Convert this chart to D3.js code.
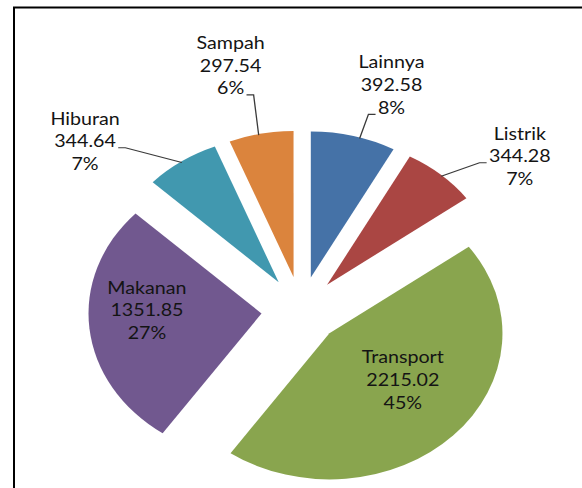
<!DOCTYPE html>
<html>
<head>
<meta charset="utf-8">
<script src="https://cdn.jsdelivr.net/npm/d3@7"></script>
<style>
  body { margin: 0; background: #fff; }
  text { font-family: Lato, "Open Sans", sans-serif; fill: #141414; }
</style>
</head>
<body>
<div id="chart"></div>
<script>
// data
const categories = ["Lainnya", "Listrik", "Transport", "Makanan", "Hiburan", "Sampah"];
const values = [392.58, 344.28, 2215.02, 1351.85, 344.64, 297.54];

// styles
const colors = ["#4572A7", "#AA4643", "#89A54E", "#71588F", "#4198AF", "#DB843D"];

// where the labels sit: polar around the pie centre (deg clockwise from 12 o'clock),
// which text line the leader starts from and where it meets the arc
const labelLayout = [
  { angle: 18.8, radius: 237, line: 2, side: "left", hit: 16.5 },
  { angle: 50.3, radius: 240, line: 1, side: "left", hit: 41.6 },
  { angle: 129.3, radius: 111 },
  { angle: 269.6, radius: 130 },
  { angle: 312.7, radius: 248, line: 1, side: "right", hit: 325.7 },
  { angle: 346.3, radius: 251, line: 2, side: "right", hit: 348.3 }
];

const width = 582, height = 488;
const stretch = 1.185;           // the picture is wider than tall
const radius = 146, explode = 33.5;
const cx = 301 / stretch, cy = 310;
const lineGap = 22.7, fontSize = 16.6;

const total = d3.sum(values);
const fmtVal = d3.format(".2f");
const rad = a => a * Math.PI / 180;
const polar = (a, r) => [r * Math.sin(a), -r * Math.cos(a)];

const svg = d3.select("#chart").append("svg")
  .attr("width", width)
  .attr("height", height);

// frame (left and top edges only are visible)
svg.append("path")
  .attr("d", "M14,488V7.5H582")
  .attr("fill", "none")
  .attr("stroke", "#000")
  .attr("stroke-width", 2);

const root = svg.append("g")
  .attr("transform", "scale(" + stretch + ",1)")
  .append("g")
  .attr("transform", "translate(" + cx + "," + cy + ")");

const pie = d3.pie().sort(null).value(d => d)(values);
const arc = d3.arc().innerRadius(0).outerRadius(radius);

const offset = d => polar((d.startAngle + d.endAngle) / 2, explode);

// slices
root.selectAll("path.slice")
  .data(pie)
  .join("path")
  .attr("class", "slice")
  .attr("fill", (d, i) => colors[i])
  .attr("transform", d => "translate(" + offset(d) + ")")
  .attr("d", arc);

// labels
pie.forEach((d, i) => {
  const lay = labelLayout[i];
  const [lx, ly] = polar(rad(lay.angle), lay.radius);
  const lines = [categories[i], fmtVal(values[i]), Math.round(values[i] / total * 100) + "%"];

  const t = root.append("text")
    .attr("text-anchor", "middle")
    .style("font-size", fontSize + "px");
  const spans = lines.map((s, k) => t.append("tspan")
    .attr("x", lx)
    .attr("y", ly + 5.5 + (k - 1) * lineGap)
    .text(s));

  if (lay.line === undefined) return;

  // leader line: short flat run off the text, then to the slice edge
  const w = spans[lay.line].node().getComputedTextLength();
  const yy = ly + 6 + (lay.line - 1) * lineGap;
  const dir = lay.side === "left" ? -1 : 1;
  const x0 = lx + dir * (w / 2 + 2);
  const x1 = x0 + dir * 6;
  const [ox, oy] = offset(d);
  const [hx, hy] = polar(rad(lay.hit), radius - 1);

  root.append("path")
    .attr("d", d3.line()([[x0, yy], [x1, yy], [ox + hx, oy + hy]]))
    .attr("fill", "none")
    .attr("stroke", "#3a3a3a")
    .attr("stroke-width", 1.1);
});
</script>
</body>
</html>
